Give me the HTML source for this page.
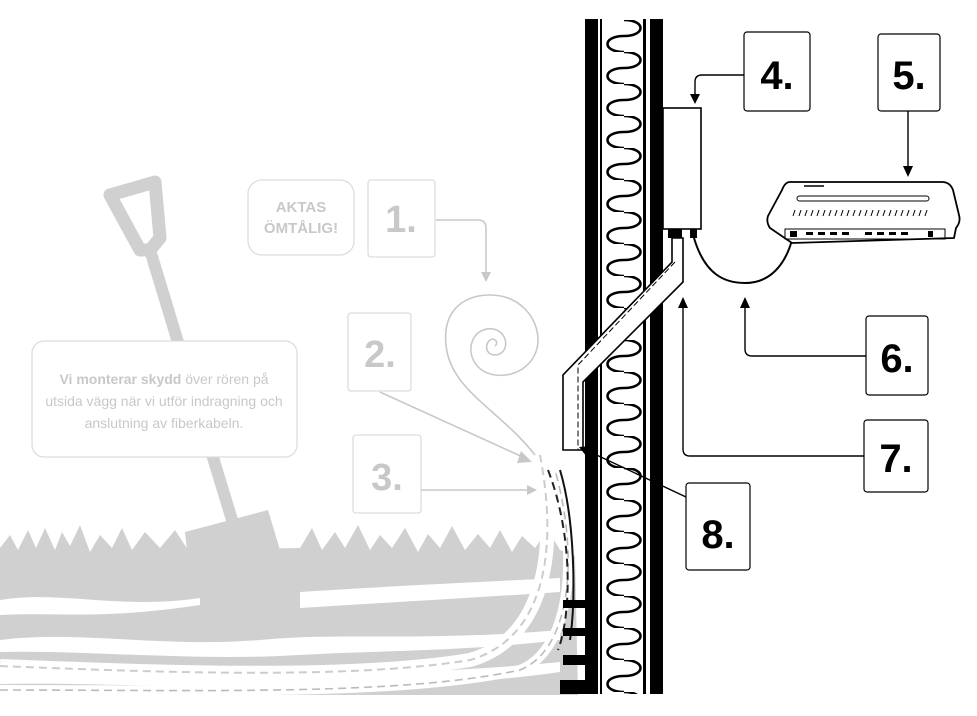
<!DOCTYPE html>
<html><head><meta charset="utf-8"><style>
html,body{margin:0;padding:0;background:#fff;}
svg{display:block;}
text{font-family:"Liberation Sans",sans-serif;}
</style></head><body>
<svg width="977" height="716" viewBox="0 0 977 716" xmlns="http://www.w3.org/2000/svg">
<defs>
<pattern id="zz" x="604" y="20" width="40" height="32" patternUnits="userSpaceOnUse">
<path d="M20,0 C42,0 42,16 20,16 C-2,16 -2,32 20,32" fill="none" stroke="#000" stroke-width="2.6"/>
</pattern>
</defs>

<!-- shovel -->
<g fill="none" stroke="#d0d0d0" stroke-linejoin="round">
<path d="M110,195 L155,182 L160,238 L150,250 L140,250 Z" stroke-width="13"/>
<path d="M150,250 L232,520" stroke-width="12"/>
</g>
<path d="M185,532 L268,510 L298,610 L240,630 L195,630 Z" fill="#d0d0d0"/>
<!-- ground grey -->
<path d="M0,548 L10,535 L18,550 L28,530 L36,548 L45,528 L55,550 L62,532 L70,546 L80,525 L90,552 L100,535 L112,548 L122,528 L132,550 L145,532 L160,548 L175,530 L188,550 L300,548 L312,528 L322,550 L335,532 L345,548 L358,525 L370,550 L380,535 L392,548 L405,528 L418,552 L428,534 L440,548 L452,526 L465,550 L478,534 L490,548 L500,530 L512,552 L522,536 L535,548 L548,530 L560,550 L575,556 L578,695 L0,695 Z" fill="#d0d0d0"/>
<path d="M185,560 L268,540 L298,610 L240,630 L195,630 Z" fill="#d0d0d0"/>
<g fill="#fff">
<path d="M0,600 C60,590 120,610 200,598 L200,605 C100,620 60,612 0,615 Z"/>
<path d="M300,592 C360,588 420,585 560,578 L560,592 C470,598 380,603 300,608 Z"/>
<path d="M0,640 C80,630 160,648 260,640 C340,632 420,642 560,630 L560,640 C460,652 380,650 280,656 C180,660 80,650 0,652 Z"/>
<path d="M0,672 C100,665 200,680 320,676 C420,672 500,668 560,662 L560,672 C480,684 380,686 280,688 C180,688 80,682 0,684 Z"/>
</g>
<!-- dashed pipe in ground -->
<path d="M0,666 C150,672 350,680 470,660 C540,640 560,560 540,455" fill="none" stroke="#fff" stroke-width="14"/>
<path d="M0,666 C150,672 350,680 470,660 C540,640 560,560 540,455" fill="none" stroke="#ccc" stroke-width="2" stroke-dasharray="8,5"/>
<path d="M0,690 C200,690 400,696 520,670 C570,650 580,560 555,470" fill="none" stroke="#fff" stroke-width="10"/>
<path d="M0,690 C200,690 400,696 520,670 C570,650 580,560 555,470" fill="none" stroke="#bbb" stroke-width="1.6" stroke-dasharray="8,5"/>
<path d="M548,470 C575,540 570,620 558,650" fill="none" stroke="#222" stroke-width="2" stroke-dasharray="8,5"/>
<path d="M560,470 C575,520 576,600 570,640" fill="none" stroke="#111" stroke-width="2"/>

<!-- grey annotation boxes -->
<g fill="#fff" stroke="#ddd" stroke-width="1.3">
<rect x="248" y="180" width="106" height="75" rx="14"/>
<rect x="368" y="180" width="67" height="77" rx="3"/>
<rect x="348" y="313" width="63" height="78" rx="3"/>
<rect x="353" y="435" width="68" height="78" rx="3"/>
<rect x="32" y="341" width="265" height="116" rx="12"/>
</g>
<text x="301" y="212" font-size="15" font-weight="bold" fill="#c8c8c8" text-anchor="middle">AKTAS</text>
<text x="301" y="233" font-size="15" font-weight="bold" fill="#c8c8c8" text-anchor="middle">ÖMTÅLIG!</text>
<text x="401" y="232" font-size="38" font-weight="bold" fill="#c8c8c8" text-anchor="middle">1.</text>
<text x="380" y="367" font-size="38" font-weight="bold" fill="#c8c8c8" text-anchor="middle">2.</text>
<text x="387" y="490" font-size="38" font-weight="bold" fill="#c8c8c8" text-anchor="middle">3.</text>
<text x="164" y="384" font-size="14" fill="#c8c8c8" text-anchor="middle"><tspan font-weight="bold">Vi monterar skydd</tspan> över rören på</text>
<text x="164" y="406" font-size="14" fill="#c8c8c8" text-anchor="middle">utsida vägg när vi utför indragning och</text>
<text x="164" y="428" font-size="14" fill="#c8c8c8" text-anchor="middle">anslutning av fiberkabeln.</text>
<!-- grey arrows and spiral -->
<g fill="none" stroke="#c8c8c8" stroke-width="1.6">
<path d="M436,220 L478,220 Q486,220 486,228 L486,272"/>
<path d="M535,455 C500,410 450,390 446,345 C442,305 470,295 490,295 C520,295 538,318 538,340 C538,362 518,378 495,375 C475,372 468,355 472,342 C476,330 490,325 500,332 C510,340 506,355 495,355 C486,355 484,345 490,340 C495,337 499,343 495,346"/>
<path d="M380,392 L525,458"/>
<path d="M421,490 L530,490"/>
</g>
<g fill="#c8c8c8"><path d="M481,272 L491,272 L486,282 Z"/><path d="M521,451 L532,462 L517,463 Z"/><path d="M527,485 L537,490 L527,495 Z"/></g>

<!-- wall -->
<rect x="585" y="19" width="13" height="675" fill="#000"/>
<rect x="600" y="19" width="2" height="675" fill="#000"/>
<rect x="604" y="20" width="40" height="674" fill="url(#zz)"/>
<rect x="643" y="19" width="3" height="675" fill="#000"/>
<rect x="650" y="19" width="13" height="675" fill="#000"/>
<g fill="#000"><rect x="563" y="600" width="22" height="8"/><rect x="563" y="628" width="22" height="8"/><rect x="563" y="655" width="22" height="10"/><rect x="560" y="680" width="25" height="14"/></g>

<!-- pipe -->
<path d="M563,450 L563,375 L672,262 L672,238 L683,238 L683,282 L583,382 L583,450 Z" fill="#fff" stroke="#000" stroke-width="1.6"/>
<path d="M675,262 L578,365 L578,450" fill="none" stroke="#000" stroke-width="1" stroke-dasharray="6,3"/>
<!-- device 4 -->
<rect x="663" y="108" width="38" height="121" fill="#fff" stroke="#000" stroke-width="1.6"/>
<rect x="668" y="229" width="14" height="9" fill="#000"/><rect x="690" y="229" width="7" height="9" fill="#000"/>
<!-- cable -->
<path d="M694,238 C705,275 725,283 745,283 C770,283 785,265 792,240" fill="none" stroke="#000" stroke-width="2"/>
<!-- router -->
<path d="M790,182 L942,182 Q950,182 953,190 L959,215 Q961,222 956,228 L954,238 L792,243 L770,228 Q766,222 768,216 L782,190 Q785,182 790,182 Z" fill="#fff" stroke="#000" stroke-width="1.8"/>
<rect x="797" y="196" width="132" height="5" rx="2.5" fill="none" stroke="#000" stroke-width="1"/>
<line x1="804" y1="186" x2="824" y2="186" stroke="#000" stroke-width="1.5"/>
<path d="M795,210 l-2,6 M801,210 l-2,6 M807,210 l-2,6 M813,210 l-2,6 M819,210 l-2,6 M825,210 l-2,6 M831,210 l-2,6 M837,210 l-2,6 M843,210 l-2,6 M849,210 l-2,6 M855,210 l-2,6 M861,210 l-2,6 M867,210 l-2,6 M873,210 l-2,6 M879,210 l-2,6 M885,210 l-2,6 M891,210 l-2,6 M897,210 l-2,6 M903,210 l-2,6 M909,210 l-2,6 M915,210 l-2,6 M921,210 l-2,6 M927,210 l-2,6" stroke="#000" stroke-width="1"/>
<rect x="785" y="229" width="160" height="10" fill="none" stroke="#000" stroke-width="1"/>
<g fill="#000"><rect x="790" y="231" width="7" height="6"/><rect x="806" y="232" width="7" height="3"/><rect x="818" y="232" width="7" height="3"/><rect x="830" y="232" width="7" height="3"/><rect x="842" y="232" width="7" height="3"/><rect x="865" y="232" width="7" height="3"/><rect x="877" y="232" width="7" height="3"/><rect x="889" y="232" width="7" height="3"/><rect x="901" y="232" width="7" height="3"/><rect x="928" y="231" width="5" height="6"/></g>

<!-- black label boxes -->
<g fill="#fff" stroke="#000" stroke-width="1.2">
<rect x="744" y="32" width="66" height="79" rx="3"/>
<rect x="878" y="34" width="62" height="77" rx="3"/>
<rect x="866" y="316" width="62" height="79" rx="3"/>
<rect x="864" y="420" width="64" height="72" rx="3"/>
<rect x="686" y="483" width="64" height="87" rx="3"/>
</g>
<g font-size="40" font-weight="bold" fill="#000" text-anchor="middle">
<text x="777" y="89">4.</text>
<text x="909" y="89">5.</text>
<text x="897" y="372">6.</text>
<text x="896" y="472">7.</text>
<text x="718" y="548">8.</text>
</g>
<!-- black arrows -->
<g fill="none" stroke="#000" stroke-width="1.4">
<path d="M744,75 L702,75 Q695,75 695,82 L695,96"/>
<path d="M908,111 L908,168"/>
<path d="M866,356 L752,356 Q745,356 745,349 L745,306"/>
<path d="M864,456 L690,456 Q683,456 683,449 L683,306"/>
<path d="M686,497 L588,451"/>
</g>
<g fill="#000">
<path d="M690,94 L700,94 L695,104 Z"/>
<path d="M903,166 L913,166 L908,177 Z"/>
<path d="M740,308 L750,308 L745,297 Z"/>
<path d="M678,308 L688,308 L683,297 Z"/>
<path d="M579,447 L592,446 L587,457 Z"/>
</g>
</svg>
</body></html>
